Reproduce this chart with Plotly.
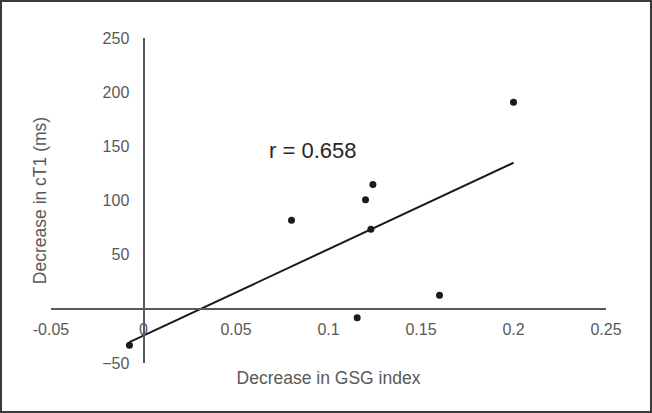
import numpy as np
import plotly.graph_objects as go

# decrease in GSG index vs decrease in cT1 (ms)
gsg_decrease = [0.2, 0.124, 0.120, 0.080, 0.1229, 0.160, 0.1155, -0.0076]
ct1_decrease = [190.7, 114.7, 100.6, 81.8, 73.5, 12.6, -8.3, -33.5]

x_ticks = [-0.05, 0, 0.05, 0.1, 0.15, 0.2, 0.25]
x_tick_text = ["-0.05", "0", "0.05", "0.1", "0.15", "0.2", "0.25"]
y_ticks = [-50, 50, 100, 150, 200, 250]
r_label = "r = 0.658"

FONT = "Liberation Sans, Arial, sans-serif"
GREY = "#595959"

x = np.array(gsg_decrease)
y = np.array(ct1_decrease)
slope, intercept = np.polyfit(x, y, 1)
line_x = np.array([x.min(), x.max()])
line_y = slope * line_x + intercept

fig = go.Figure()
fig.add_trace(go.Scatter(x=line_x, y=line_y, mode="lines",
                         line=dict(color="#1a1a1a", width=2), hoverinfo="skip"))
fig.add_trace(go.Scatter(x=x, y=y, mode="markers",
                         marker=dict(color="#1a1a1a", size=7)))

fig.add_annotation(x=0.0916, y=146, text=r_label, showarrow=False,
                   font=dict(family=FONT, size=22, color="#262626"))

# frame around the whole picture
fig.add_shape(type="rect", xref="paper", yref="paper",
              x0=-50 / 555, x1=600 / 555, y0=-49 / 325, y1=362 / 325,
              line=dict(color="#3a3a3a", width=2))

fig.update_xaxes(range=[-0.05, 0.25], tickvals=x_ticks, ticktext=x_tick_text,
                 anchor="free", position=1 / 6, showline=True, linecolor=GREY,
                 linewidth=2, showgrid=False, zeroline=False,
                 ticks="outside", ticklen=6, tickcolor="rgba(0,0,0,0)",
                 tickfont=dict(family=FONT, size=16, color=GREY),
                 title=dict(text="Decrease in GSG index", standoff=34,
                            font=dict(family=FONT, size=17.5, color=GREY)),
                 automargin=False)
fig.update_yaxes(range=[-50, 250], tickvals=y_ticks,
                 anchor="free", position=1 / 6, showline=True, linecolor=GREY,
                 linewidth=2, showgrid=False, zeroline=False,
                 ticks="outside", ticklen=10, tickcolor="rgba(0,0,0,0)",
                 tickfont=dict(family=FONT, size=16, color=GREY),
                 title=dict(text="Decrease in cT1 (ms)", standoff=50,
                            font=dict(family=FONT, size=17.5, color=GREY)),
                 automargin=False)

fig.update_layout(width=652, height=413, showlegend=False,
                  margin=dict(l=51, r=46, t=38, b=50),
                  plot_bgcolor="white", paper_bgcolor="white")

fig.write_html("out.html", config={"displayModeBar": False},
               post_script="document.body.style.margin = '0';")
